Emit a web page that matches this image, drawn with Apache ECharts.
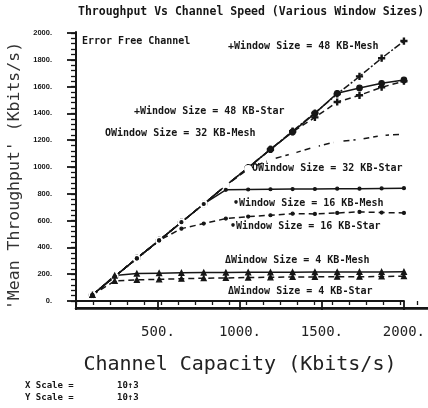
<!DOCTYPE html>
<html>
<head>
<meta charset="utf-8">
<script src="https://cdn.jsdelivr.net/npm/echarts@6/dist/echarts.min.js"></script>
<style>html,body{margin:0;padding:0;background:#fff}#c{width:428px;height:408px}</style>
</head>
<body>
<div id="c"></div>
<script>
// ---- data ----
var capacity = [100, 236, 371, 507, 643, 779, 914, 1050, 1186, 1321, 1457, 1593, 1729, 1864, 2000];
var mesh48 = [45, 183, 318, 452, 588, 724, 862, 995, 1131, 1268, 1403, 1545, 1676, 1812, 1940];
var star48 = [45, 183, 318, 452, 588, 724, 862, 995, 1131, 1262, 1370, 1485, 1535, 1595, 1640];
var mesh32 = [45, 183, 318, 452, 588, 724, 862, 995, 1131, 1262, 1400, 1550, 1590, 1625, 1650];
var star32 = [45, 183, 318, 452, 588, 724, 862, 985, 1055, 1100, 1150, 1190, 1205, 1235, 1245];
var mesh16 = [45, 183, 318, 452, 588, 724, 830, 832, 834, 835, 836, 838, 838, 840, 842];
var star16 = [45, 183, 318, 452, 540, 578, 615, 630, 640, 652, 650, 657, 665, 660, 657];
var mesh4  = [45, 190, 205, 208, 210, 212, 212, 214, 214, 215, 216, 216, 217, 217, 218];
var star4  = [45, 150, 158, 162, 166, 170, 172, 175, 177, 179, 180, 181, 181, 183, 185];
var xTicks = [500, 1000, 1500, 2000];
var yTicks = [0, 200, 400, 600, 800, 1000, 1200, 1400, 1600, 1800, 2000];

var titleText = 'Throughput Vs Channel Speed (Various Window Sizes)';
var xName = 'Channel Capacity (Kbits/s)';
var yName = "'Mean Throughput' (Kbits/s)";
var notes = [
  'Error Free Channel',
  '+Window Size = 48 KB-Mesh',
  '+Window Size = 48 KB-Star',
  'OWindow Size = 32 KB-Mesh',
  'OWindow Size = 32 KB-Star',
  '\u2022Window Size = 16 KB-Mesh',
  '\u2022Window Size = 16 KB-Star',
  '\u0394Window Size = 4 KB-Mesh',
  '\u0394Window Size = 4 KB-Star'
];
var scaleLines = [['X Scale =', '10\u21913'], ['Y Scale =', '10\u21913']];

function pairs(arr) { return capacity.map(function (c, i) { return [c, arr[i]]; }); }

var INK = '#161616';
var plus = 'path://M4,0H6V4H10V6H6V10H4V6H0V4H4Z';
function ser(name, arr, symbol, size, dash, filled) {
  return {
    name: name, type: 'line', data: pairs(arr), xAxisIndex: 0, yAxisIndex: 0,
    symbol: symbol, symbolSize: size, showSymbol: true,
    lineStyle: { color: INK, width: 1.5, type: dash },
    itemStyle: { color: filled ? INK : '#fff', borderColor: INK, borderWidth: 1.2 },
    emphasis: { disabled: true }, z: 3
  };
}

var chart = echarts.init(document.getElementById('c'), null, { renderer: 'canvas' });
var mono = 'DejaVu Sans Mono';
var noteText = function (t, x, y) {
  return { type: 'text', x: x, y: y, style: { text: t, fill: INK, font: 'bold 10px "' + mono + '"', verticalAlign: 'middle' } };
};
var notePos = [[82, 41], [228, 46], [134, 111], [105, 133], [252, 168], [233, 203], [230, 226], [225, 260], [228, 291]];
var graphics = [
  { type: 'text', x: 78, y: 12, style: { text: titleText, fill: INK, font: 'bold 11.5px "' + mono + '"', verticalAlign: 'middle' } },
  { type: 'text', x: 15, y: 176, rotation: Math.PI / 2, style: { text: yName, fill: '#333', font: '16.5px "' + mono + '"', align: 'center', verticalAlign: 'middle' } }
];
notes.forEach(function (t, i) { graphics.push(noteText(t, notePos[i][0], notePos[i][1])); });
scaleLines.forEach(function (p, i) {
  graphics.push({ type: 'text', x: 25, y: 386 + i * 12, style: { text: p[0], fill: INK, font: 'bold 9px "' + mono + '"', verticalAlign: 'middle' } });
  graphics.push({ type: 'text', x: 117, y: 386 + i * 12, style: { text: p[1], fill: INK, font: 'bold 9px "' + mono + '"', verticalAlign: 'middle' } });
});

var hidden = { axisTick: { show: false }, axisLabel: { show: false }, splitLine: { show: false } };
function frameAxis(extra) {
  return Object.assign({ type: 'value', min: 0, max: 1 }, hidden, extra);
}

chart.setOption({
  backgroundColor: '#fff',
  animation: false,
  grid: [
    { left: 76, right: 11, top: 33, bottom: 107 },
    { left: 76, right: 0, top: 32, bottom: 100 },
    { left: 76, right: 11, top: 33, bottom: 107 }
  ],
  xAxis: [
    {
      gridIndex: 0, type: 'value', min: 0, max: 2000, interval: 500, offset: 7,
      axisLine: { show: true, lineStyle: { color: INK, width: 2 } },
      axisTick: { show: true, length: 9, lineStyle: { color: INK, width: 1.8 } },
      splitLine: { show: false },
      axisLabel: {
        margin: 17, color: '#222', fontFamily: mono, fontSize: 14,
        formatter: function (v) { return xTicks.indexOf(v) >= 0 ? v + '.' : ''; }
      },
      name: xName, nameLocation: 'middle', nameGap: 47,
      nameTextStyle: { color: '#222', fontFamily: mono, fontSize: 20 }
    },
    frameAxis({ gridIndex: 1, position: 'top', axisLine: { show: true, lineStyle: { color: INK, width: 2.5 } } }),
    frameAxis({ gridIndex: 1, position: 'bottom', axisLine: { show: true, lineStyle: { color: INK, width: 2 } } }),
    {
      gridIndex: 2, type: 'value', min: 0, max: 2000, interval: 100, offset: 7, position: 'bottom',
      axisLine: { show: false },
      axisTick: { show: true, length: 4, lineStyle: { color: INK, width: 1.3 } },
      axisLabel: { show: false }, splitLine: { show: false }
    }
  ],
  yAxis: [
    {
      gridIndex: 0, type: 'value', min: 0, max: 2000, interval: 200,
      axisLine: { show: true, lineStyle: { color: INK, width: 2 } },
      axisTick: { show: true, length: 9, lineStyle: { color: INK, width: 1.8 } },
      splitLine: { show: false },
      axisLabel: {
        margin: 24, color: INK, fontFamily: 'Liberation Sans', fontWeight: 'bold', fontSize: 7.5,
        formatter: function (v) { return yTicks.indexOf(v) >= 0 ? v + '.' : ''; }
      }
    },
    frameAxis({ gridIndex: 1, axisLine: { show: true, lineStyle: { color: INK, width: 2 } } }),
    {
      gridIndex: 2, type: 'value', min: 0, max: 2000, interval: 40, position: 'left',
      axisLine: { show: false },
      axisTick: { show: true, length: 5, lineStyle: { color: INK, width: 1.3 } },
      axisLabel: { show: false }, splitLine: { show: false }
    }
  ],
  series: [
    ser('48 KB-Mesh', mesh48, plus, 6, [7, 2, 2, 2], true),
    ser('48 KB-Star', star48, plus, 6, [6, 4], true),
    ser('32 KB-Mesh', mesh32, 'circle', 5.5, 'solid', true),
    ser('32 KB-Star', star32, 'emptyCircle', 6, [6, 4], false),
    ser('16 KB-Mesh', mesh16, 'circle', 3, 'solid', true),
    ser('16 KB-Star', star16, 'circle', 3, [6, 4], true),
    ser('4 KB-Mesh', mesh4, 'triangle', 5, 'solid', true),
    ser('4 KB-Star', star4, 'triangle', 5, [6, 4], true)
  ],
  graphic: graphics
});
</script>
</body>
</html>
